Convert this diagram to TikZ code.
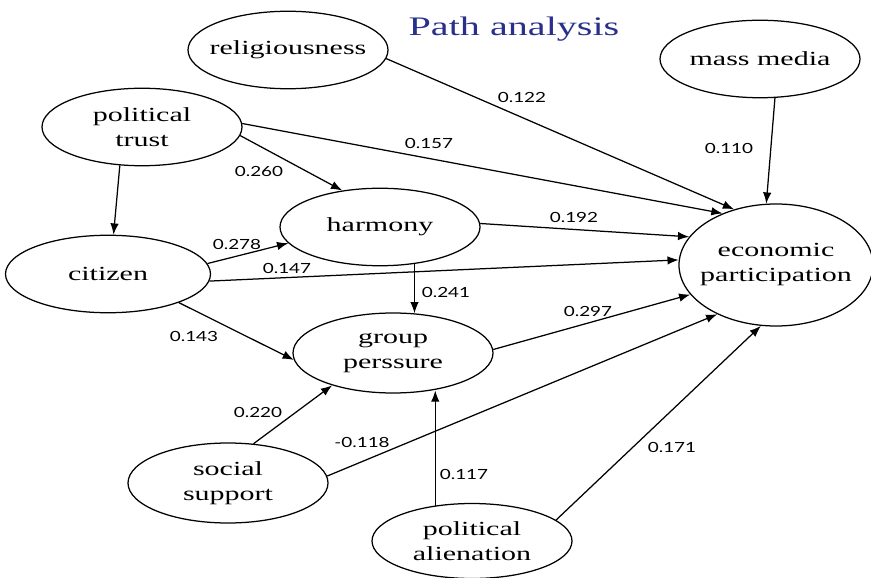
\documentclass[tikz,border=0pt]{standalone}
\usepackage{fontspec}
\usetikzlibrary{shapes.geometric,arrows.meta}
\newfontfamily\varfamily[FakeStretch=1.5]{Liberation Serif}
\newfontfamily\coeffamily[FakeStretch=1.35]{Lato}
\definecolor{titleblue}{RGB}{40,48,140}
\tikzset{
  var/.style={draw, ellipse, line width=0.5pt, minimum width=80pt, minimum height=31pt,
    inner xsep=-6pt, inner ysep=0pt, align=center,
    font=\varfamily\fontsize{8}{10}\selectfont},
  coef/.style={inner sep=0pt, font=\coeffamily\fontsize{5.6}{6}\selectfont},
  link/.style={-{Latex[length=4.5pt,width=3.4pt]}, line width=0.5pt}
}

\begin{document}
\begin{tikzpicture}[x=0.4pt, y=-0.4pt]
	\useasboundingbox (0,0) rectangle (871,578);
	\node[anchor=base, text=titleblue, font=\varfamily\fontsize{10.7}{12}\selectfont] (title) at (514,36) {Path analysis};
	
	% variables
	\node[var] (relig) at (288,50) {religiousness};
	\node[var] (mass) at (760,59) {mass media};
	\node[var] (trust) at (142,127) {political\\trust};
	\node[var] (harm) at (380,227) {harmony};
	\node[var, minimum width=82pt] (citizen) at (108,274) {citizen};
	\node[var, minimum width=77.6pt, minimum height=48.8pt] (econ) at (776,265) {economic\\participation};
	\node[var, minimum height=32pt] (group) at (393,353) {group\\perssure};
	\node[var, minimum height=32pt] (social) at (228,483) {social\\support};
	\node[var, minimum height=30pt] (alien) at (472,541) {political\\alienation};
	
	% paths
	\draw[link] (relig.-5.8) -- (econ.127);
	\draw[link] (mass.-69) -- (econ.99.6);
	\draw[link] (trust.2.3) -- (econ.136.7);
	\draw[link] (trust.-5.2) -- (harm.136.6);
	\draw[link] (trust.-120.5) -- (citizen.82.7);
	\draw[link] (harm.2.3) -- (econ.162.8);
	\draw[link] (citizen.6.7) -- (harm.190.3);
	\draw[link] (citizen.-4.3) -- (econ.177);
	\draw[link] (harm.-47.5) -- (harm.-47.5 |- group.62);
	\draw[link] (citizen.-22.8) -- (group.184.6);
	\draw[link] (group.2.9) -- (econ.199);
	\draw[link] (social.57.3) -- (group.208.1);
	\draw[link] (social.4) -- (econ.220);
	\draw[link] (alien.136.5) -- (alien.136.5 |- group.-44);
	\draw[link] (alien.14.6) -- (econ.256.4);
	
	% coefficients
	\node[coef] (w122) at (522,97) {0.122};
	\node[coef] (w110) at (729,148) {0.110};
	\node[coef] (w157) at (429,143) {0.157};
	\node[coef] (w260) at (259,171) {0.260};
	\node[coef] (w192) at (574,217) {0.192};
	\node[coef] (w278) at (237,244) {0.278};
	\node[coef] (w147) at (287,268) {0.147};
	\node[coef] (w241) at (446,292) {0.241};
	\node[coef] (w143) at (194,336) {0.143};
	\node[coef] (w297) at (588,311) {0.297};
	\node[coef] (w220) at (258,412) {0.220};
	\node[coef] (w118) at (362,442) {-0.118};
	\node[coef] (w117) at (464,474) {0.117};
	\node[coef] (w171) at (672,447) {0.171};
\end{tikzpicture}
\end{document}
